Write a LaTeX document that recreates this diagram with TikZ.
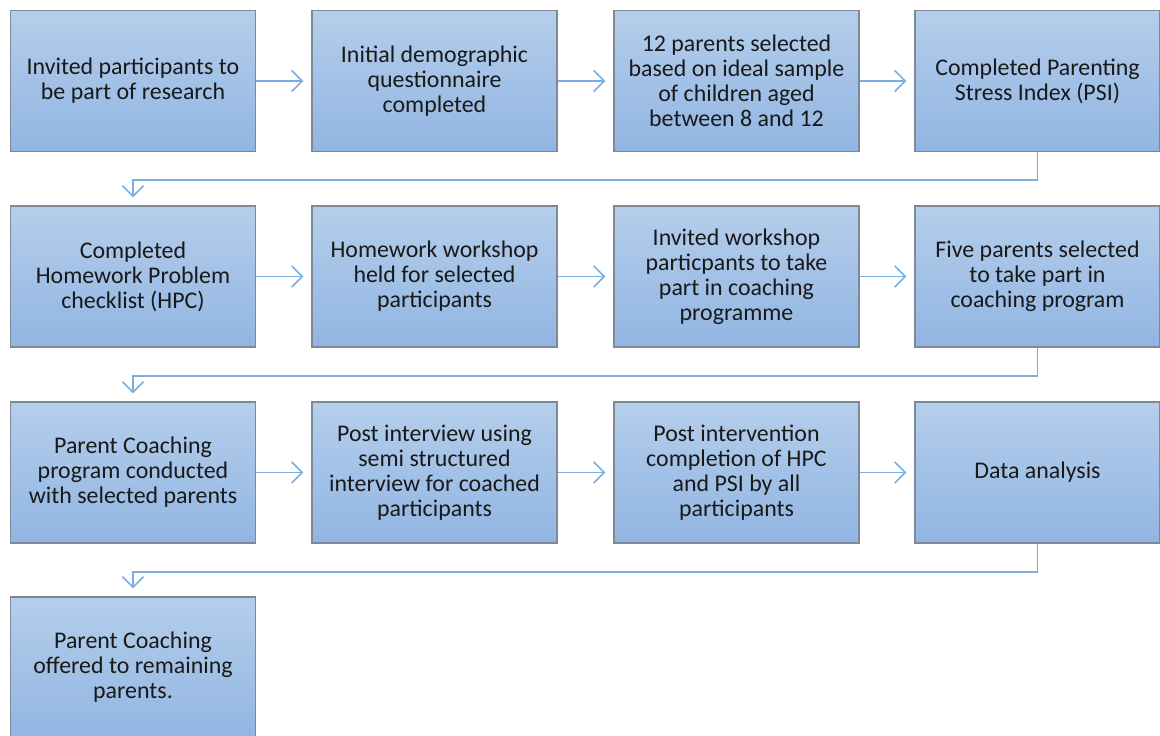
\documentclass[tikz,border=0pt]{standalone}
\usepackage{fontspec}
\setmainfont{Carlito}
\usetikzlibrary{arrows.meta}
\definecolor{boxtop}{HTML}{B5CEEB}
\definecolor{boxbot}{HTML}{91B5E2}
\definecolor{boxline}{HTML}{7D8898}
\definecolor{arrowblue}{HTML}{7AAEE0}
\tikzset{
  stage/.style={draw=boxline,line width=.9pt,top color=boxtop,bottom color=boxbot,
    minimum width=4.9cm,minimum height=2.82cm,align=center,text=black!90,
    font=\fontsize{13.6}{14.2}\selectfont,inner sep=0pt},
  flow/.style={draw=arrowblue,line width=.9pt,shorten >=4.5pt,
    -{Straight Barb[length=6pt,width=12pt,line width=.9pt]}}
}
\begin{document}
\begin{tikzpicture}[x=.02cm,y=-.02cm]
\useasboundingbox (0,0) rectangle (1160,736);
\node[stage] (b1) at (133,81) {Invited participants to\\be part of research};
\node[stage] (b2) at (434.5,81) {Initial demographic\\questionnaire\\completed};
\node[stage] (b3) at (736.5,81) {12 parents selected\\based on ideal sample\\of children aged\\between 8 and 12};
\node[stage] (b4) at (1037.5,81) {Completed Parenting\\Stress Index (PSI)};
\node[stage] (b5) at (133,276.5) {Completed\\Homework Problem\\checklist (HPC)};
\node[stage] (b6) at (434.5,276.5) {Homework workshop\\held for selected\\participants};
\node[stage] (b7) at (736.5,276.5) {Invited workshop\\particpants to take\\part in coaching\\programme};
\node[stage] (b8) at (1037.5,276.5) {Five parents selected\\to take part in\\coaching program};
\node[stage] (b9) at (133,472.5) {Parent Coaching\\program conducted\\with selected parents};
\node[stage] (b10) at (434.5,472.5) {Post interview using\\semi structured\\interview for coached\\participants};
\node[stage] (b11) at (736.5,472.5) {Post intervention\\completion of HPC\\and PSI by all\\participants};
\node[stage] (b12) at (1037.5,472.5) {Data analysis};
\node[stage] (b13) at (133,667.5) {Parent Coaching\\offered to remaining\\parents.};
%%%%
\foreach \a/\b in {b1/b2,b2/b3,b3/b4,b5/b6,b6/b7,b7/b8,b9/b10,b10/b11,b11/b12}
\draw[flow] (\a) -- (\b);
\foreach \a/\b in {b4/b5,b8/b9,b12/b13}
\draw[flow] (\a.south) -- ++(0,28) -| (\b.north);
\end{tikzpicture}
\end{document}
